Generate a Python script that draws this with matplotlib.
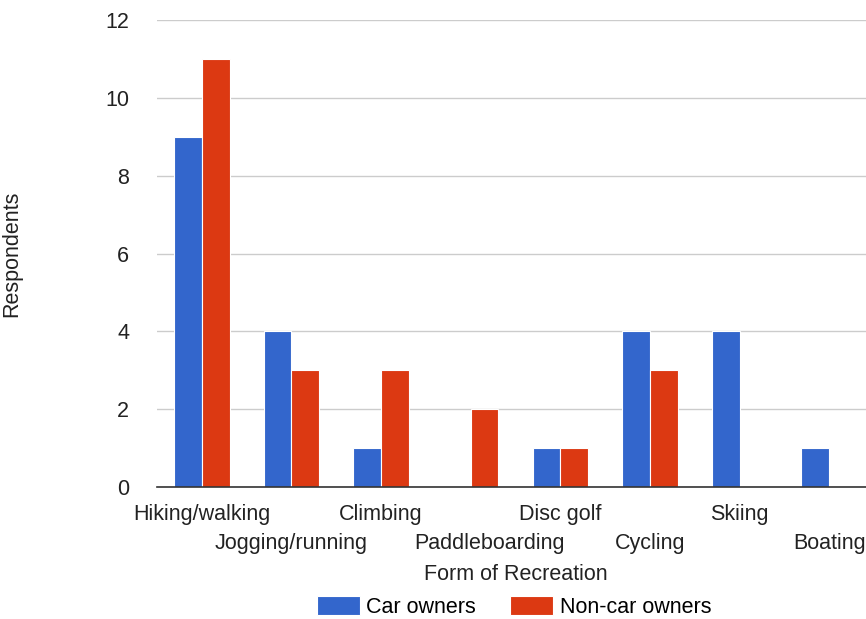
import matplotlib.pyplot as plt
import numpy as np
import matplotlib
from matplotlib.transforms import ScaledTranslation

matplotlib.rcParams['font.family'] = ['Liberation Sans', 'DejaVu Sans']
matplotlib.rcParams['font.size'] = 15.5

# survey counts per form of recreation
activities = ['Hiking/walking', 'Jogging/running', 'Climbing', 'Paddleboarding',
              'Disc golf', 'Cycling', 'Skiing', 'Boating']
car_owners = [9, 4, 1, 0, 1, 4, 4, 1]
non_car_owners = [11, 3, 3, 2, 1, 3, 0, 0]

W, H = 866, 619
fig = plt.figure(figsize=(W / 100, H / 100), dpi=100)
ax = fig.add_axes([157 / W, (H - 487) / H, (874 - 157) / W, (487 - 20) / H])

x = np.arange(len(activities))
bw = 0.31
ax.bar(x - bw / 2, car_owners, bw, color='#3366cc', edgecolor='white', lw=0.8,
       label='Car owners', zorder=3)
ax.bar(x + bw / 2, non_car_owners, bw, color='#dc3912', edgecolor='white', lw=0.8,
       label='Non-car owners', zorder=3)

ax.set_xlim(-0.5, len(activities) - 0.5)
ax.set_ylim(0, 12)
ax.set_yticks(range(0, 13, 2))
ax.yaxis.grid(True, color='#cccccc', lw=1)
ax.set_axisbelow(True)

for s in ['top', 'right', 'left']:
    ax.spines[s].set_visible(False)
ax.spines['bottom'].set_color('#333333')
ax.spines['bottom'].set_linewidth(1.2)
ax.spines['bottom'].set_zorder(4)

ax.set_xticks(x)
ax.set_xticklabels(activities, color='#222222')
ax.tick_params(axis='x', length=0)
ax.tick_params(axis='y', length=0, pad=20, labelcolor='#222222')
# stagger the category labels on two rows
for i, tick in enumerate(ax.xaxis.get_major_ticks()):
    tick.set_pad(12 if i % 2 == 0 else 33)
# nudge the long paddleboarding label to the right
lbl = ax.xaxis.get_major_ticks()[3].label1
lbl.set_transform(lbl.get_transform() + ScaledTranslation(0.19, 0, fig.dpi_scale_trans))

ax.set_xlabel('Form of Recreation', color='#222222')
ax.set_ylabel('Respondents', color='#222222')
ax.yaxis.set_label_coords(-157 / (874 - 157) + 22 / (874 - 157), 0.5)
ax.xaxis.set_label_coords(0.5, -(574 - 487) / (487 - 20), transform=ax.transAxes)
ax.xaxis.label.set_va('center')

fig.legend(loc='center', bbox_to_anchor=(514 / W, 1 - 607 / H), ncol=2,
           frameon=False, handlelength=2.0, handleheight=1.0,
           handletextpad=0.3, columnspacing=1.6)

plt.savefig('out.png', dpi=100)
